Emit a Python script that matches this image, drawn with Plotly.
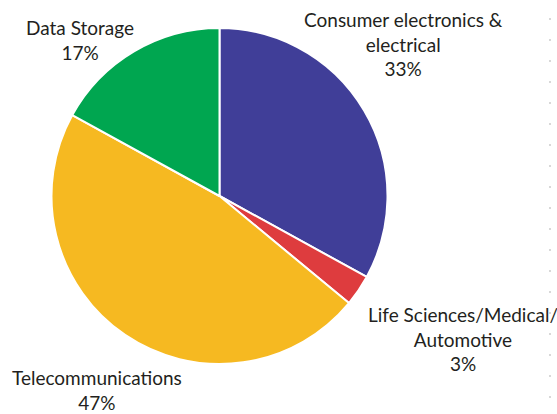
import plotly.graph_objects as go

labels = ["Consumer electronics & electrical", "Life Sciences/Medical/Automotive",
          "Telecommunications", "Data Storage"]
values = [33, 3, 47, 17]
colors = ["#403E98", "#DE3C3E", "#F6B921", "#00A650"]
label_text = ["Consumer electronics &<br>electrical<br>33%",
              "Life Sciences/Medical/<br>Automotive<br>3%",
              "Telecommunications<br>47%",
              "Data Storage<br>17%"]
label_pos = [(403, 44), (463, 339), (97, 390), (80, 40)]  # pixel centers

W, H = 557, 414
cx, cy, r = 219.5, 196, 168

fig = go.Figure(go.Pie(
    labels=labels, values=values, sort=False, direction="clockwise", rotation=0,
    marker=dict(colors=colors, line=dict(color="white", width=2)),
    textinfo="none", hoverinfo="label+percent", showlegend=False,
    domain=dict(x=[(cx - r) / W, (cx + r) / W], y=[(H - cy - r) / H, (H - cy + r) / H]),
))

for txt, (px, py) in zip(label_text, label_pos):
    fig.add_annotation(x=px / W, y=1 - py / H, xref="paper", yref="paper",
                       text=txt, showarrow=False, xanchor="center", yanchor="middle",
                       align="center", font=dict(family="Lato", size=19, color="#231F20"))

fig.add_shape(type="line", xref="paper", yref="paper",
              x0=550 / W, x1=550 / W, y0=1 - 18 / H, y1=0,
              line=dict(color="#CCCCCC", width=1.5, dash="2px,19px"))

fig.update_layout(width=W, height=H, margin=dict(l=0, r=0, t=0, b=0),
                  paper_bgcolor="white", plot_bgcolor="white")
fig.write_html("out.html")
